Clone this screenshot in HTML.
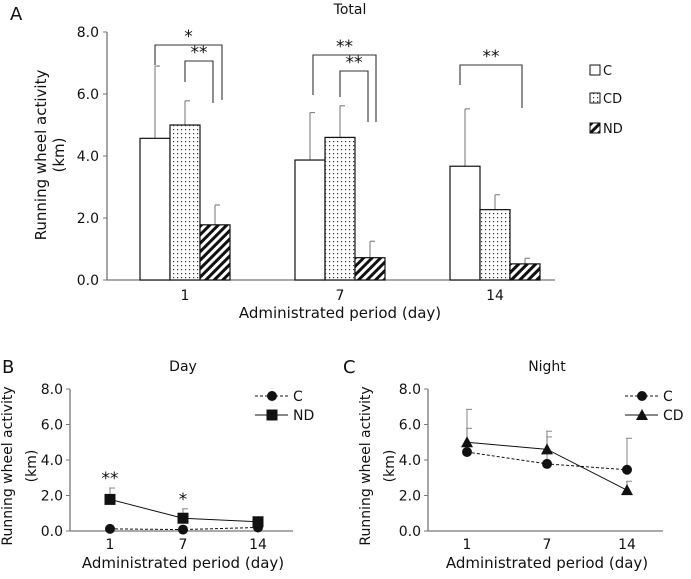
<!DOCTYPE html>
<html><head><meta charset="utf-8"><style>
body{margin:0;background:#fff;}
svg text{font-family:"DejaVu Sans","Liberation Sans",sans-serif;fill:#111;}
</style></head><body>
<svg width="691" height="574" xmlns="http://www.w3.org/2000/svg">
<defs>
<pattern id="dots" width="4" height="4" patternUnits="userSpaceOnUse"><rect width="4" height="4" fill="#fff"/><rect x="1" y="1" width="1.2" height="1.2" fill="#333"/></pattern>
<pattern id="hatch" width="6" height="6" patternUnits="userSpaceOnUse" patternTransform="rotate(45)"><rect width="6" height="6" fill="#fff"/><rect width="3" height="6" fill="#111"/></pattern>
</defs>
<g id="gA"></g>
<g id="gB"></g>
<g id="gC"></g>
</svg>
<script>
const NS="http://www.w3.org/2000/svg";
// Panel A data
const aCats=["1","7","14"];
const aSeries=["C","CD","ND"];
const aC=[4.57,3.87,3.67], aCerr=[2.33,1.53,1.85];
const aCD=[5.0,4.6,2.27], aCDerr=[0.78,1.02,0.48];
const aND=[1.78,0.72,0.52], aNDerr=[0.64,0.53,0.18];
const yTicks=[0,2,4,6,8];
const yTickLabels=["0.0","2.0","4.0","6.0","8.0"];
// Panel B data
const bCats=["1","7","14"];
const bC=[0.12,0.08,0.2];
const bND=[1.78,0.72,0.52], bNDerr=[0.64,0.53,0.1];
const bStars=["**","*",""];
// Panel C data
const cCats=["1","7","14"];
const cC=[4.45,3.78,3.45], cCerr=[1.33,1.52,1.77];
const cCD=[5.0,4.6,2.3], cCDerr=[1.85,1.02,0.5];

function el(p,t,a,txt){const e=document.createElementNS(NS,t);for(const k in a)e.setAttribute(k,a[k]);if(txt!==undefined)e.textContent=txt;p.appendChild(e);return e;}

// ---- Panel A ----
const A=document.getElementById('gA');
const ay=v=>280-v*31;
const ax=i=>185+i*155;
el(A,'text',{x:10,y:20,'font-size':18,},'A');
el(A,'text',{x:350,y:14,'font-size':14,'text-anchor':'middle',},'Total');
el(A,'line',{x1:107,y1:ay(8),x2:107,y2:280,stroke:'#777','stroke-width':1.3,});
el(A,'line',{x1:107,y1:280,x2:555,y2:280,stroke:'#777','stroke-width':1.3,});
yTicks.forEach((v,i)=>{
 el(A,'line',{x1:103,y1:ay(v),x2:107,y2:ay(v),stroke:'#777',});
 el(A,'text',{x:99,y:ay(v)+5,'font-size':14,'text-anchor':'end',},yTickLabels[i]);
});
el(A,'text',{transform:'translate(46,155) rotate(-90)','font-size':15,'text-anchor':'middle',},'Running wheel activity');
el(A,'text',{transform:'translate(64,155) rotate(-90)','font-size':15,'text-anchor':'middle',},'(km)');
el(A,'text',{x:340,y:318,'font-size':15,'text-anchor':'middle',},'Administrated period (day)');
const fills=['#fff','url(#dots)','url(#hatch)'];
const vals=[aC,aCD,aND], errs=[aCerr,aCDerr,aNDerr];
aCats.forEach((c,i)=>{
 el(A,'text',{x:ax(i),y:300,'font-size':14,'text-anchor':'middle',},c);
 for(let s=0;s<3;s++){
  const x0=ax(i)-45+s*30, v=vals[s][i], e=errs[s][i];
  el(A,'line',{x1:x0+15,y1:ay(v),x2:x0+15,y2:ay(v+e),stroke:'#888','stroke-width':1.2,});
  el(A,'line',{x1:x0+15,y1:ay(v+e),x2:x0+20,y2:ay(v+e),stroke:'#888','stroke-width':1.2,});
  el(A,'rect',{x:x0,y:ay(v),width:30,height:280-ay(v),fill:fills[s],stroke:'#111','stroke-width':1.2,});
 }
});
function bracket(x1,y1a,top,x2,y2a,label){
 el(A,'polyline',{points:`${x1},${y1a} ${x1},${top} ${x2},${top} ${x2},${y2a}`,fill:'none',stroke:'#333','stroke-width':1.1,});
 el(A,'text',{x:(x1+x2)/2,y:top-3,'font-size':17,'text-anchor':'middle',},label);
}
bracket(155,65,45,222,100,'*');
bracket(185,82,61,213,103,'**');
bracket(313,95,55,376,122,'**');
bracket(340,97,71,368,122,'**');
bracket(460,85,65,522,108,'**');
const lg=[['C',70],['CD',98],['ND',128]];
lg.forEach((l,s)=>{
 el(A,'rect',{x:590,y:l[1]-5,width:10,height:10,fill:fills[s],stroke:'#111',});
 el(A,'text',{x:603,y:l[1]+5,'font-size':13,},l[0]);
});

// ---- Line panels ----
function linePanel(G,ox,tk,axLen,letter,labelX,title,cats,s1,s1err,s2,s2err,s2name,s2marker,stars){
 const y=v=>531-v*17.75;
 const x=i=>ox+tk[i];
 el(G,'text',{x:labelX,y:373,'font-size':18,},letter);
 el(G,'text',{x:x(1),y:371,'font-size':14,'text-anchor':'middle',},title);
 el(G,'line',{x1:ox,y1:y(8),x2:ox,y2:531,stroke:'#777','stroke-width':1.3,});
 el(G,'line',{x1:ox,y1:531,x2:ox+axLen,y2:531,stroke:'#777','stroke-width':1.3,});
 yTicks.forEach((v,i)=>{
  el(G,'line',{x1:ox-4,y1:y(v),x2:ox,y2:y(v),stroke:'#777',});
  el(G,'text',{x:ox-7,y:y(v)+5,'font-size':14,'text-anchor':'end',},yTickLabels[i]);
 });
 el(G,'text',{transform:`translate(${ox-58},466) rotate(-90)`,'font-size':14,'text-anchor':'middle',},'Running wheel activity');
 el(G,'text',{transform:`translate(${ox-34},466) rotate(-90)`,'font-size':14,'text-anchor':'middle',},'(km)');
 el(G,'text',{x:x(1),y:568,'font-size':15,'text-anchor':'middle',},'Administrated period (day)');
 cats.forEach((c,i)=>el(G,'text',{x:x(i),y:549,'font-size':14,'text-anchor':'middle',},c));
 const errs=(vals,er)=>vals.forEach((v,i)=>{if(!er)return;el(G,'line',{x1:x(i),y1:y(v),x2:x(i),y2:y(v+er[i]),stroke:'#999','stroke-width':1.2,});el(G,'line',{x1:x(i)-1,y1:y(v+er[i]),x2:x(i)+5,y2:y(v+er[i]),stroke:'#999','stroke-width':1.2,});});
 errs(s1,s1err);errs(s2,s2err);
 el(G,'polyline',{points:s1.map((v,i)=>x(i)+','+y(v)).join(' '),fill:'none',stroke:'#111','stroke-dasharray':'3,2',});
 el(G,'polyline',{points:s2.map((v,i)=>x(i)+','+y(v)).join(' '),fill:'none',stroke:'#111',});
 const mk=(m,cx,cy,n)=>{
  if(m==='circle')el(G,'circle',{cx,cy,r:5,fill:'#111',});
  else if(m==='square')el(G,'rect',{x:cx-5.5,y:cy-5.5,width:11,height:11,fill:'#111',});
  else el(G,'polygon',{points:`${cx},${cy-6} ${cx-6},${cy+5} ${cx+6},${cy+5}`,fill:'#111',});
 };
 s1.forEach((v,i)=>mk('circle',x(i),y(v),'point-c'));
 s2.forEach((v,i)=>mk(s2marker,x(i),y(v),'point-'+s2name.toLowerCase()));
 if(stars)stars.forEach((s,i)=>{if(s)el(G,'text',{x:x(i),y:y(s2[i]+s2err[i])-4,'font-size':17,'text-anchor':'middle',},s);});
 const lx=ox+axLen-38;
 el(G,'line',{x1:lx,y1:396,x2:lx+33,y2:396,stroke:'#111','stroke-dasharray':'3,2',});
 mk('circle',lx+17,396,'legend-marker-c');
 el(G,'text',{x:lx+38,y:401,'font-size':14,},'C');
 el(G,'line',{x1:lx,y1:415,x2:lx+33,y2:415,stroke:'#111',});
 mk(s2marker,lx+17,415,'legend-marker-'+s2name.toLowerCase());
 el(G,'text',{x:lx+38,y:420,'font-size':14,},s2name);
}
linePanel(document.getElementById('gB'),70,[40,113,188],223,'B',2,'Day',bCats,bC,null,bND,bNDerr,'ND','square',bStars);
linePanel(document.getElementById('gC'),428,[39,119,199],235,'C',343,'Night',cCats,cC,cCerr,cCD,cCDerr,'CD','triangle',null);
</script>
</body></html>
